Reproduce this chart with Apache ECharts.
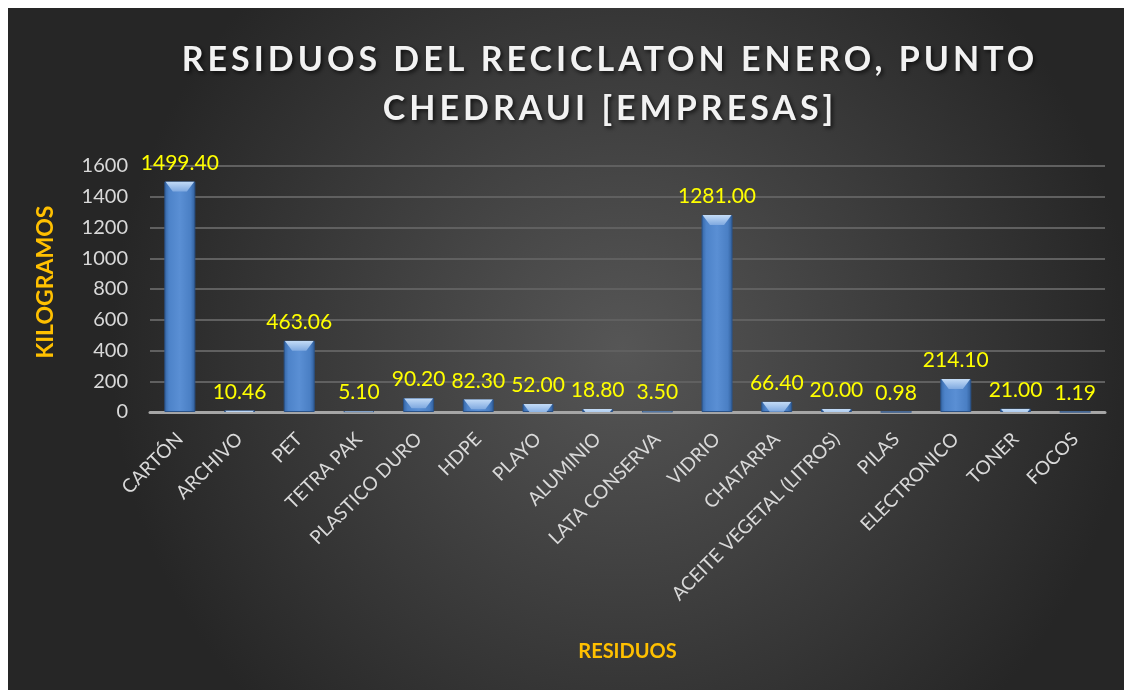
<!DOCTYPE html>
<html><head><meta charset="utf-8">
<script src="https://cdn.jsdelivr.net/npm/echarts@6/dist/echarts.min.js"></script>
<style>
html,body{margin:0;padding:0;background:#fff;}
#c{position:absolute;left:8px;top:8px;width:1116px;height:682px;}
</style></head>
<body><div id="c"></div>
<script>
const categories = ['CARTÓN','ARCHIVO','PET','TETRA PAK','PLASTICO DURO','HDPE','PLAYO','ALUMINIO','LATA CONSERVA','VIDRIO','CHATARRA','ACEITE VEGETAL (LITROS)','PILAS','ELECTRONICO','TONER','FOCOS'];
const values = [1499.40,10.46,463.06,5.10,90.20,82.30,52.00,18.80,3.50,1281.00,66.40,20.00,0.98,214.10,21.00,1.19];
const titleText = 'RESIDUOS DEL RECICLATON ENERO, PUNTO\nCHEDRAUI [EMPRESAS]';
const yName = 'KILOGRAMOS';
const xName = 'RESIDUOS';

// letter spacing for the title text (canvas letterSpacing)
(function(){
  const proto = CanvasRenderingContext2D.prototype;
  const orig = proto.fillText;
  proto.fillText = function(t, x, y, w){
    if (this.font && this.font.indexOf('bold') >= 0 && this.font.indexOf('34px') >= 0 && 'letterSpacing' in this) {
      const prev = this.letterSpacing;
      this.letterSpacing = '4px';
      const r = w === undefined ? orig.call(this, t, x, y) : orig.call(this, t, x, y, w);
      this.letterSpacing = prev;
      return r;
    }
    return orig.apply(this, arguments);
  };
})();

const chart = echarts.init(document.getElementById('c'));
chart.setOption({
  backgroundColor: {
    type:'radial', x:0.55, y:0.5, r:0.75,
    colorStops:[{offset:0,color:'#565656'},{offset:1,color:'#262626'}]
  },
  title: {
    text: titleText, left: 597, top: 23, textAlign:'center',
    textStyle: {
      fontFamily:'Lato', fontWeight:'bold', fontSize:34, color:'#f2f2f2',
      lineHeight:49,
      textShadowColor:'rgba(0,0,0,0.7)', textShadowBlur:4, textShadowOffsetX:2, textShadowOffsetY:2
    }
  },
  grid: {left:142, right:19, top:158, bottom:278, containLabel:false},
  xAxis: {
    type:'category', data: categories,
    name: xName, nameLocation:'middle', nameGap:230,
    nameTextStyle:{color:'#FFC000', fontWeight:'bold', fontSize:20, fontFamily:'Lato'},
    axisLine:{lineStyle:{color:'#a6a6a6', width:3}},
    axisTick:{show:false},
    axisLabel:{rotate:45, color:'#d9d9d9', fontSize:19, fontFamily:'Lato', margin:24, interval:0}
  },
  yAxis: {
    type:'value', min:0, max:1600, interval:200,
    name: yName, nameLocation:'middle', nameGap:93, nameRotate:90,
    nameTextStyle:{color:'#FFC000', fontWeight:'bold', fontSize:23, fontFamily:'Lato', padding:[0,0,0,14]},
    axisLine:{show:false}, axisTick:{show:false},
    axisLabel:{color:'#d9d9d9', fontSize:20, fontFamily:'Lato', margin:22, formatter: v => String(v)},
    splitLine:{lineStyle:{color:'#606060', width:2}}
  },
  series: [{
    type:'bar', data: values, barWidth:31,
    itemStyle:{
      color:{type:'linear',x:0,y:0,x2:1,y2:0,colorStops:[
        {offset:0,color:'#3465a4'},{offset:0.15,color:'#4d83c9'},{offset:0.5,color:'#5a8fd4'},{offset:0.85,color:'#4a7fc4'},{offset:1,color:'#2f5d99'}]},
      borderColor:'#2a5288', borderWidth:1
    },
    label:{show:true, position:'top', distance:8, color:'#FFFF00', fontSize:21, fontFamily:'Lato',
      formatter: p => p.value.toFixed(2)}
  },{
    type:'pictorialBar', data: values, barGap:'-100%', z:5,
    symbol:'path://M0,0 L31,0 L23,10 L8,10 Z',
    symbolSize:[29,10], symbolPosition:'end', symbolClip:true,
    itemStyle:{color:{type:'linear',x:0,y:0,x2:0,y2:1,colorStops:[{offset:0,color:'#c4dcf7'},{offset:1,color:'#7fa9e0'}]}},
    silent:true
  }]
});
</script></body></html>
